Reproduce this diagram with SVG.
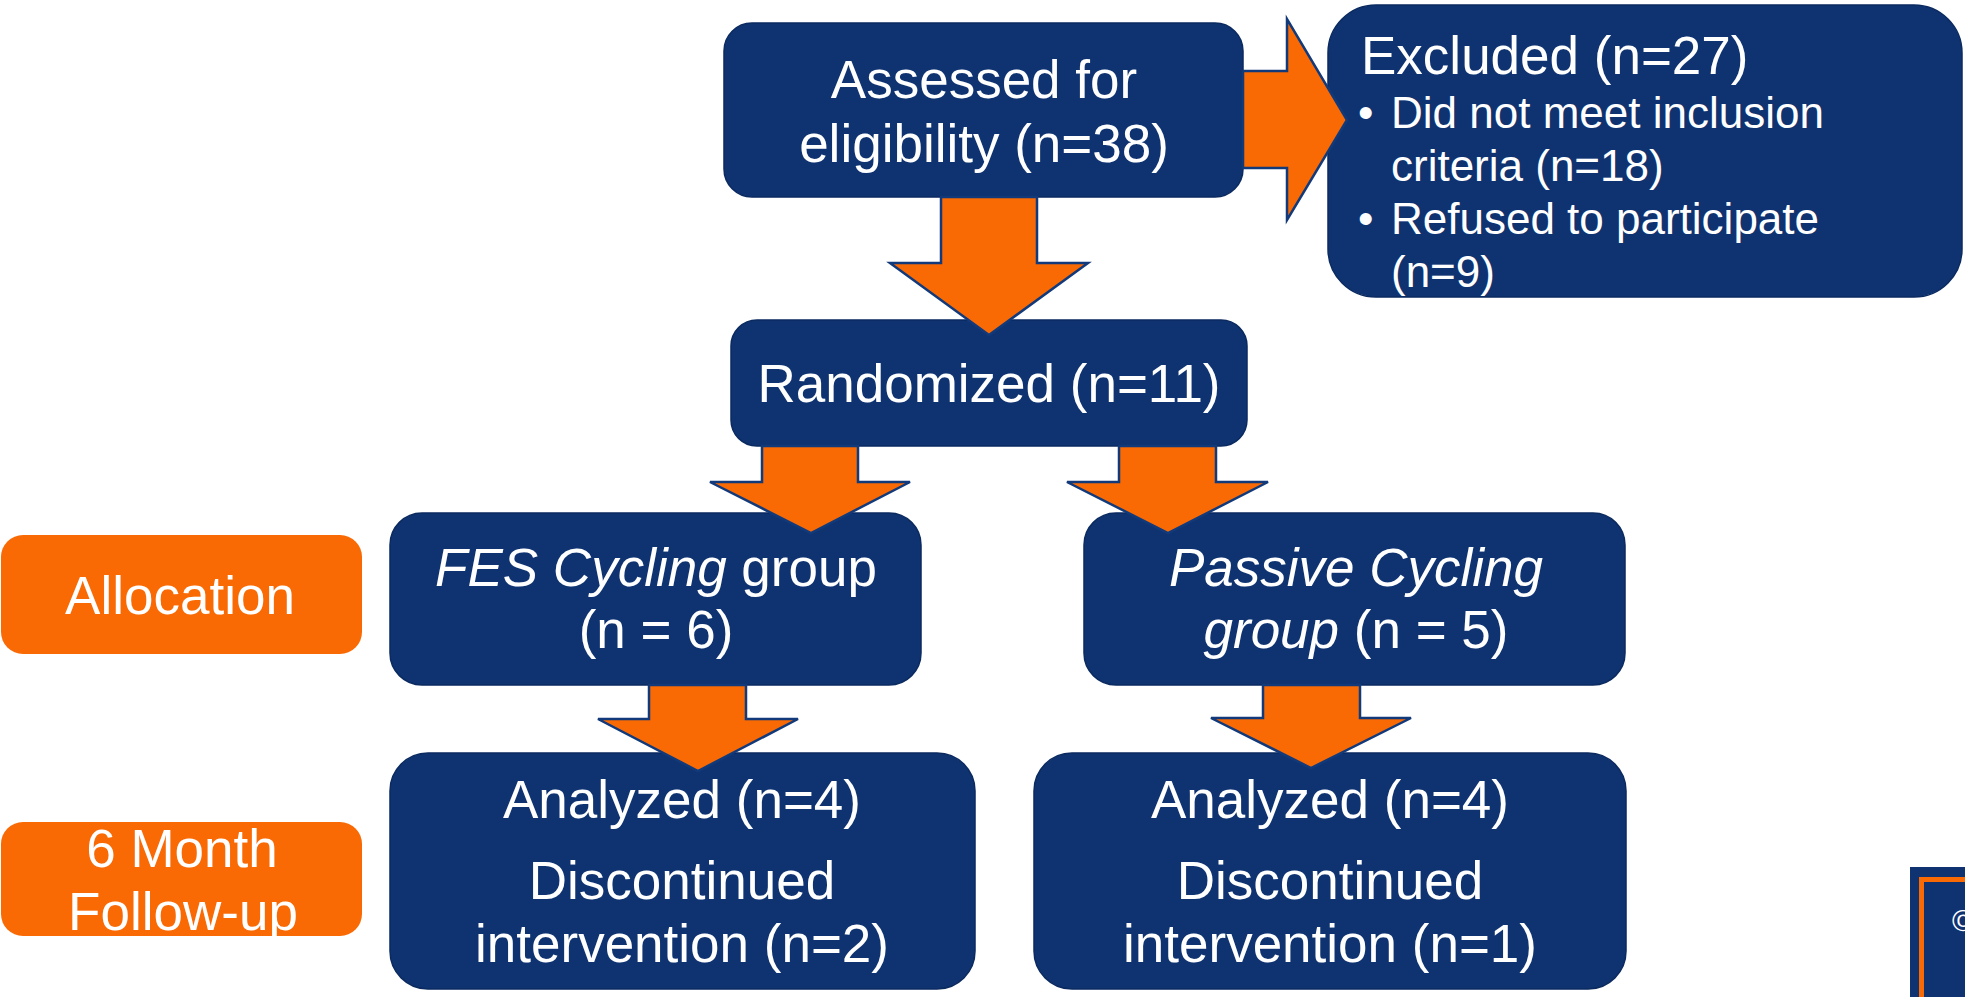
<svg xmlns="http://www.w3.org/2000/svg" width="1965" height="997" viewBox="0 0 1965 997">
<style>
.box{fill:#0F3371;stroke:#0A2A60;stroke-width:1.5}
.obox{fill:#F96A05;stroke:none}
.arrow{fill:#F96A05;stroke:#123A7A;stroke-width:2.5;stroke-linejoin:miter}
text{font-family:"Liberation Sans",Arial,sans-serif;fill:#FFFFFF}
.t{font-size:53px}
.c{text-anchor:middle}
.b{font-size:44px}
.i{font-style:italic}
</style>
<rect width="1965" height="997" fill="#FFFFFF"/>
<g id="assessed">
<rect class="box" x="724" y="23" width="519" height="174" rx="28"/>
<text class="t c" x="984" y="98">Assessed for</text>
<text class="t c" x="984" y="162">eligibility (n=38)</text>
</g>
<g id="excluded">
<rect class="box" x="1328" y="5" width="634" height="292" rx="48"/>
<text class="t" x="1361" y="74">Excluded (n=27)</text>
<text class="b" x="1358" y="128">•</text>
<text class="b" x="1391" y="128">Did not meet inclusion</text>
<text class="b" x="1391" y="181">criteria (n=18)</text>
<text class="b" x="1358" y="234">•</text>
<text class="b" x="1391" y="234">Refused to participate</text>
<text class="b" x="1391" y="287">(n=9)</text>
</g>
<g id="randomized">
<rect class="box" x="731" y="320" width="516" height="126" rx="26"/>
<text class="t c" x="989" y="402">Randomized (n=11)</text>
</g>
<g id="allocation">
<rect class="obox" x="1" y="535" width="361" height="119" rx="22"/>
<text class="t c" x="180" y="614">Allocation</text>
</g>
<g id="fes">
<rect class="box" x="390" y="513" width="531" height="172" rx="32"/>
<text class="t c" x="656" y="586"><tspan class="i">FES Cycling</tspan> group</text>
<text class="t c" x="656" y="648">(n = 6)</text>
</g>
<g id="passive">
<rect class="box" x="1084" y="513" width="541" height="172" rx="32"/>
<text class="t c i" x="1356" y="586">Passive Cycling</text>
<text class="t c" x="1356" y="648"><tspan class="i">group</tspan> (n = 5)</text>
</g>
<g id="followup">
<rect class="obox" x="1" y="822" width="361" height="114" rx="22"/>
<text class="t c" x="182" y="867">6 Month</text>
<text class="t c" x="183" y="930">Follow-up</text>
</g>
<g id="analyzed-fes">
<rect class="box" x="390" y="753" width="585" height="236" rx="38"/>
<text class="t c" x="682" y="818">Analyzed (n=4)</text>
<text class="t c" x="682" y="899">Discontinued</text>
<text class="t c" x="682" y="962">intervention (n=2)</text>
</g>
<g id="analyzed-passive">
<rect class="box" x="1034" y="753" width="592" height="236" rx="38"/>
<text class="t c" x="1330" y="818">Analyzed (n=4)</text>
<text class="t c" x="1330" y="899">Discontinued</text>
<text class="t c" x="1330" y="962">intervention (n=1)</text>
</g>
<g id="corner">
<rect x="1910" y="867" width="60" height="140" fill="#0F3371"/>
<rect x="1921.5" y="879.5" width="60" height="130" fill="none" stroke="#F96A05" stroke-width="5"/>
<text x="1952" y="931" style="font-size:30px">©</text>
</g>
<g id="connectors">
<polygon class="arrow" points="1243,71 1287,71 1287,19 1347,120 1287,220 1287,168 1243,168"/>
<polygon class="arrow" points="941,197 1037,197 1037,263 1088,263 989,335 890,263 941,263"/>
<polygon class="arrow" points="762,446 858,446 858,482 910,482 811,533 710,482 762,482"/>
<polygon class="arrow" points="1119,446 1216,446 1216,482 1268,482 1168,533 1067,482 1119,482"/>
<polygon class="arrow" points="649,685 746,685 746,719 798,719 698,771 598,719 649,719"/>
<polygon class="arrow" points="1263,685 1360,685 1360,718 1411,718 1311,768 1211,718 1263,718"/>
</g>
</svg>
